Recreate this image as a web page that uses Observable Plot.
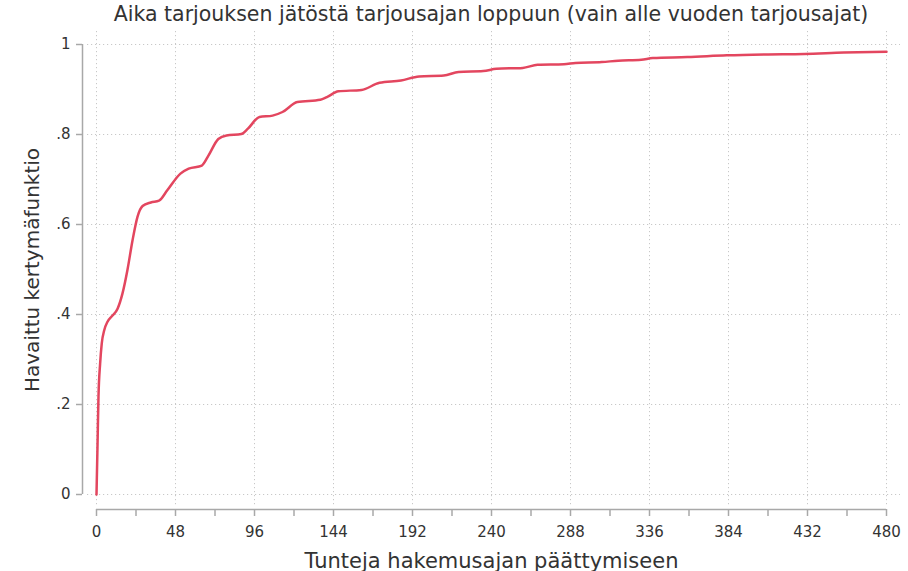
<!DOCTYPE html>
<html>
<head>
<meta charset="utf-8">
<script src="https://cdn.jsdelivr.net/npm/d3@7"></script>
<script src="https://cdn.jsdelivr.net/npm/@observablehq/plot@0.6"></script>
<style>
  html, body { margin: 0; padding: 0; background: #fff; overflow: hidden; }
  #wrap { position: relative; width: 908px; height: 571px; }
  #title {
    height: 30px; width: 908px; box-sizing: border-box; padding-left: 74px;
    text-align: center; font-family: "DejaVu Sans", sans-serif; font-size: 20.5px;
    color: #333; line-height: 28px; white-space: nowrap;
  }
</style>
</head>
<body>
<div id="wrap">
  <div id="title">Aika tarjouksen jätöstä tarjousajan loppuun (vain alle vuoden tarjousajat)</div>
  <div id="chart"></div>
</div>
<script>
const titleText = "Aika tarjouksen jätöstä tarjousajan loppuun (vain alle vuoden tarjousajat)";
const xTitle = "Tunteja hakemusajan päättymiseen";
const yTitle = "Havaittu kertymäfunktio";

const hours = [0, 0.6, 1.2, 2.2, 3.2, 4.7, 6.7, 9.3, 12.8, 15.8, 18.8, 21.9, 24.9, 28, 33, 38, 43, 51, 56, 64, 68, 74, 79, 88, 92, 99, 107, 113, 122, 136, 140, 147, 161, 172, 185, 196, 211, 220, 235, 243, 259, 268, 284, 291, 307, 317, 331, 338, 359, 383, 406, 430, 454, 480];
const cdf = [0, 0.106, 0.217, 0.291, 0.336, 0.365, 0.384, 0.396, 0.413, 0.447, 0.499, 0.565, 0.617, 0.641, 0.649, 0.653, 0.676, 0.713, 0.724, 0.731, 0.753, 0.790, 0.798, 0.801, 0.813, 0.839, 0.842, 0.850, 0.872, 0.877, 0.883, 0.896, 0.899, 0.915, 0.920, 0.929, 0.931, 0.939, 0.941, 0.946, 0.948, 0.955, 0.956, 0.959, 0.961, 0.964, 0.966, 0.970, 0.972, 0.976, 0.978, 0.979, 0.982, 0.984];

const xTickLabels = [0, 48, 96, 144, 192, 240, 288, 336, 384, 432, 480];
const xMinorTicks = [24, 72, 120, 168, 216, 264, 312, 360, 408, 456];
const yTicks = [0, 0.2, 0.4, 0.6, 0.8, 1];

const data = hours.map((h, i) => ({hours: h, cdf: cdf[i]}));
const yFmt = d => d === 0 ? "0" : d === 1 ? "1" : String(d).replace(/^0/, "");

const axisColor = "#a8a8a8";
const textColor = "#333";
const font = "DejaVu Sans, sans-serif";

const chart = Plot.plot({
  width: 908,
  height: 541,
  marginTop: 0,
  insetTop: 14,
  marginBottom: 62,
  insetBottom: 15,
  marginLeft: 82,
  insetLeft: 14,
  marginRight: 8,
  insetRight: 14,
  style: {fontFamily: font, color: textColor, background: "#fff"},
  x: {domain: [0, 480]},
  y: {domain: [0, 1]},
  marks: [
    Plot.gridY(yTicks, {stroke: "#c8c8c8", strokeOpacity: 1, strokeDasharray: "1.2,2.8", insetLeft: 5}),
    Plot.gridX(xTickLabels, {stroke: "#c8c8c8", strokeOpacity: 1, strokeDasharray: "1.2,2.8", insetBottom: 4, insetTop: 1}),
    Plot.ruleX([0], {y1: 0, y2: 1, dx: -14, stroke: axisColor, strokeWidth: 1.5}),
    Plot.ruleY([0], {x1: 0, x2: 480, dy: 15, stroke: axisColor, strokeWidth: 1.5}),
    Plot.axisY(yTicks, {anchor: "left", tickSize: 6, tickPadding: 6, tickFormat: yFmt, stroke: axisColor, strokeWidth: 1.5, fill: textColor, fontSize: 15, label: null}),
    Plot.axisX(xTickLabels, {anchor: "bottom", tickSize: 7, tickPadding: 10, tickFormat: d => String(d), stroke: axisColor, strokeWidth: 1.5, fill: textColor, fontSize: 15, label: null}),
    Plot.axisX(xMinorTicks, {anchor: "bottom", tickSize: 7, tickFormat: () => "", stroke: axisColor, strokeWidth: 1.5, label: null}),
    Plot.line(data, {x: "hours", y: "cdf", stroke: "#e3465f", strokeWidth: 2.5, curve: "monotone-x"}),
    Plot.text([xTitle], {frameAnchor: "bottom", lineAnchor: "bottom", dy: 58, fontSize: 21, fill: textColor, style: "letter-spacing:0.4px"}),
    Plot.text([yTitle], {frameAnchor: "left", textAnchor: "middle", lineAnchor: "middle", dx: -50, rotate: -90, fontSize: 20, fill: textColor, style: "letter-spacing:0.4px"})
  ]
});
document.getElementById("chart").appendChild(chart);
</script>
</body>
</html>
